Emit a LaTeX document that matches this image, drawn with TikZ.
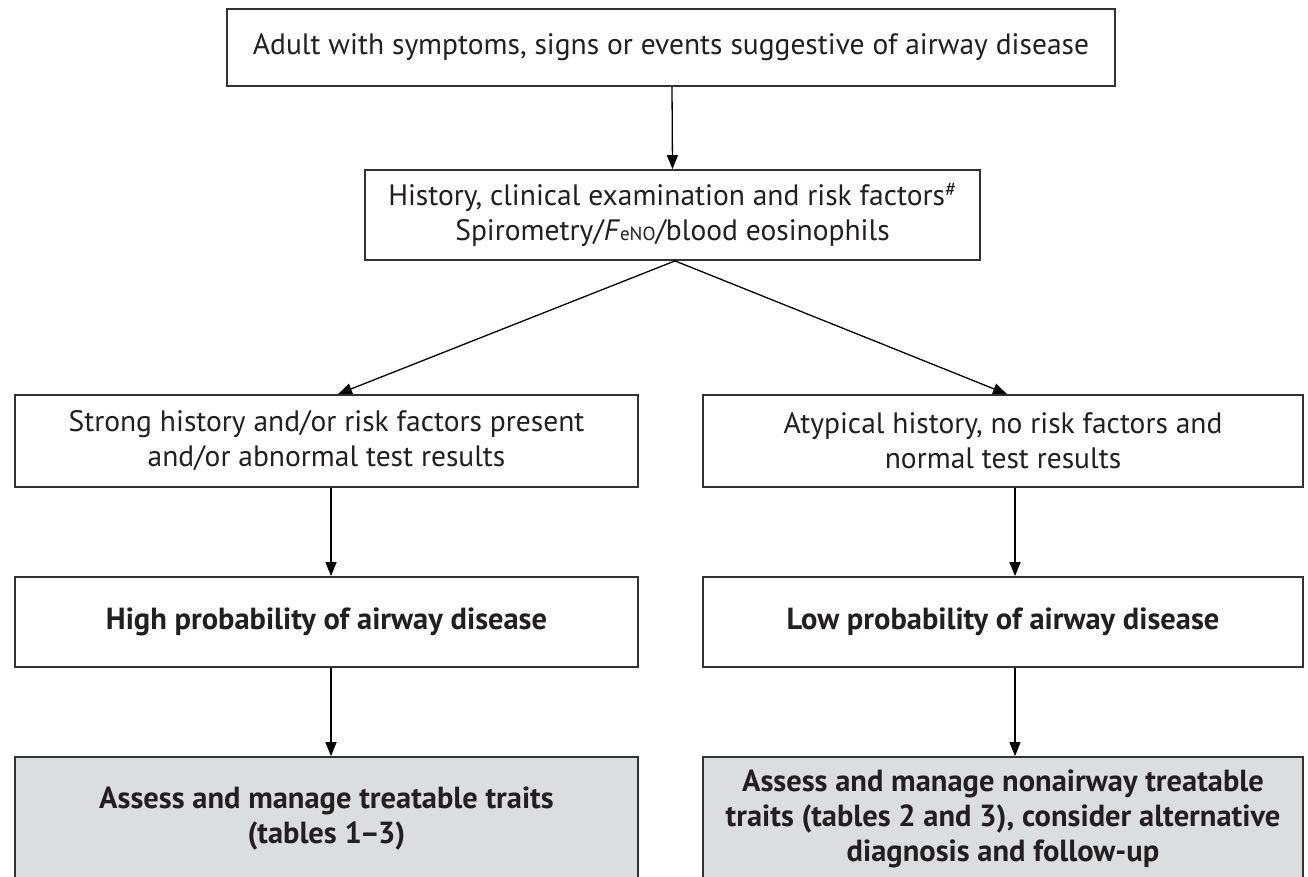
\documentclass[tikz,border=0pt]{standalone}
\usepackage{fontspec}
\setmainfont{PT Sans}
\usetikzlibrary{arrows.meta}
\definecolor{boxgray}{HTML}{DCDDDE}
\definecolor{ink}{HTML}{231F20}
\definecolor{edge}{HTML}{333333}
\begin{document}
\begin{tikzpicture}[x=1pt,y=-1pt,
  box/.style={draw=edge,line width=1.8pt,fill=white,inner sep=0pt,align=center,text=ink,
    font=\fontsize{29.5}{35}\selectfont},
  boldbox/.style={box,font=\fontsize{30.5}{35}\selectfont\bfseries},
  graybox/.style={boldbox,fill=boxgray},
  arr/.style={draw=black,line width=1.3pt,-{Triangle[length=14pt,width=11pt]}}]
\useasboundingbox (0,0) rectangle (1308,877);
\clip (0,0) rectangle (1308,877);
\node[box,minimum width=888pt,minimum height=77pt] (top) at (671,47.5)
  {Adult with symptoms, signs or events suggestive of airway disease};
\node[box,minimum width=615pt,minimum height=90pt] (hist) at (672.5,215)
  {History, clinical examination and risk factors\textsuperscript{\#}\\
   Spirometry/\textit{F}{\fontsize{19}{19}\selectfont eNO}/blood eosinophils};
\node[box,minimum width=623pt,minimum height=92pt] (l3) at (326.5,441)
  {Strong history and/or risk factors present\\and/or abnormal test results};
\node[box,minimum width=600pt,minimum height=92pt] (r3) at (1003,441)
  {Atypical history, no risk factors and\\normal test results};
\node[boldbox,minimum width=623pt,minimum height=90pt] (l4) at (326.5,622)
  {High probability of airway disease};
\node[boldbox,minimum width=600pt,minimum height=90pt] (r4) at (1003,622)
  {Low probability of airway disease};
\node[graybox,minimum width=623pt,minimum height=123pt] (l5) at (326.5,818.5)
  {Assess and manage treatable traits\\(tables 1\kern-2pt--\kern-2pt3)};
\node[graybox,minimum width=600pt,minimum height=123pt] (r5) at (1003,818.5)
  {Assess and manage nonairway treatable\\traits (tables 2 and 3), consider alternative\\diagnosis and follow-up};
\draw[arr] ([xshift=1pt]top.south) -- (hist.north);
\draw[arr] ([xshift=2.5pt]hist.south) -- ([xshift=11.5pt]l3.north);
\draw[arr] ([xshift=2.5pt]hist.south) -- ([xshift=4pt]r3.north);
\draw[arr] ([xshift=4.5pt]l3.south) -- ([xshift=4.5pt]l4.north);
\draw[arr] ([xshift=12pt]r3.south) -- ([xshift=12pt]r4.north);
\draw[arr] ([xshift=4.5pt]l4.south) -- ([xshift=4.5pt]l5.north);
\draw[arr] ([xshift=12pt]r4.south) -- ([xshift=12pt]r5.north);
\end{tikzpicture}
\end{document}
